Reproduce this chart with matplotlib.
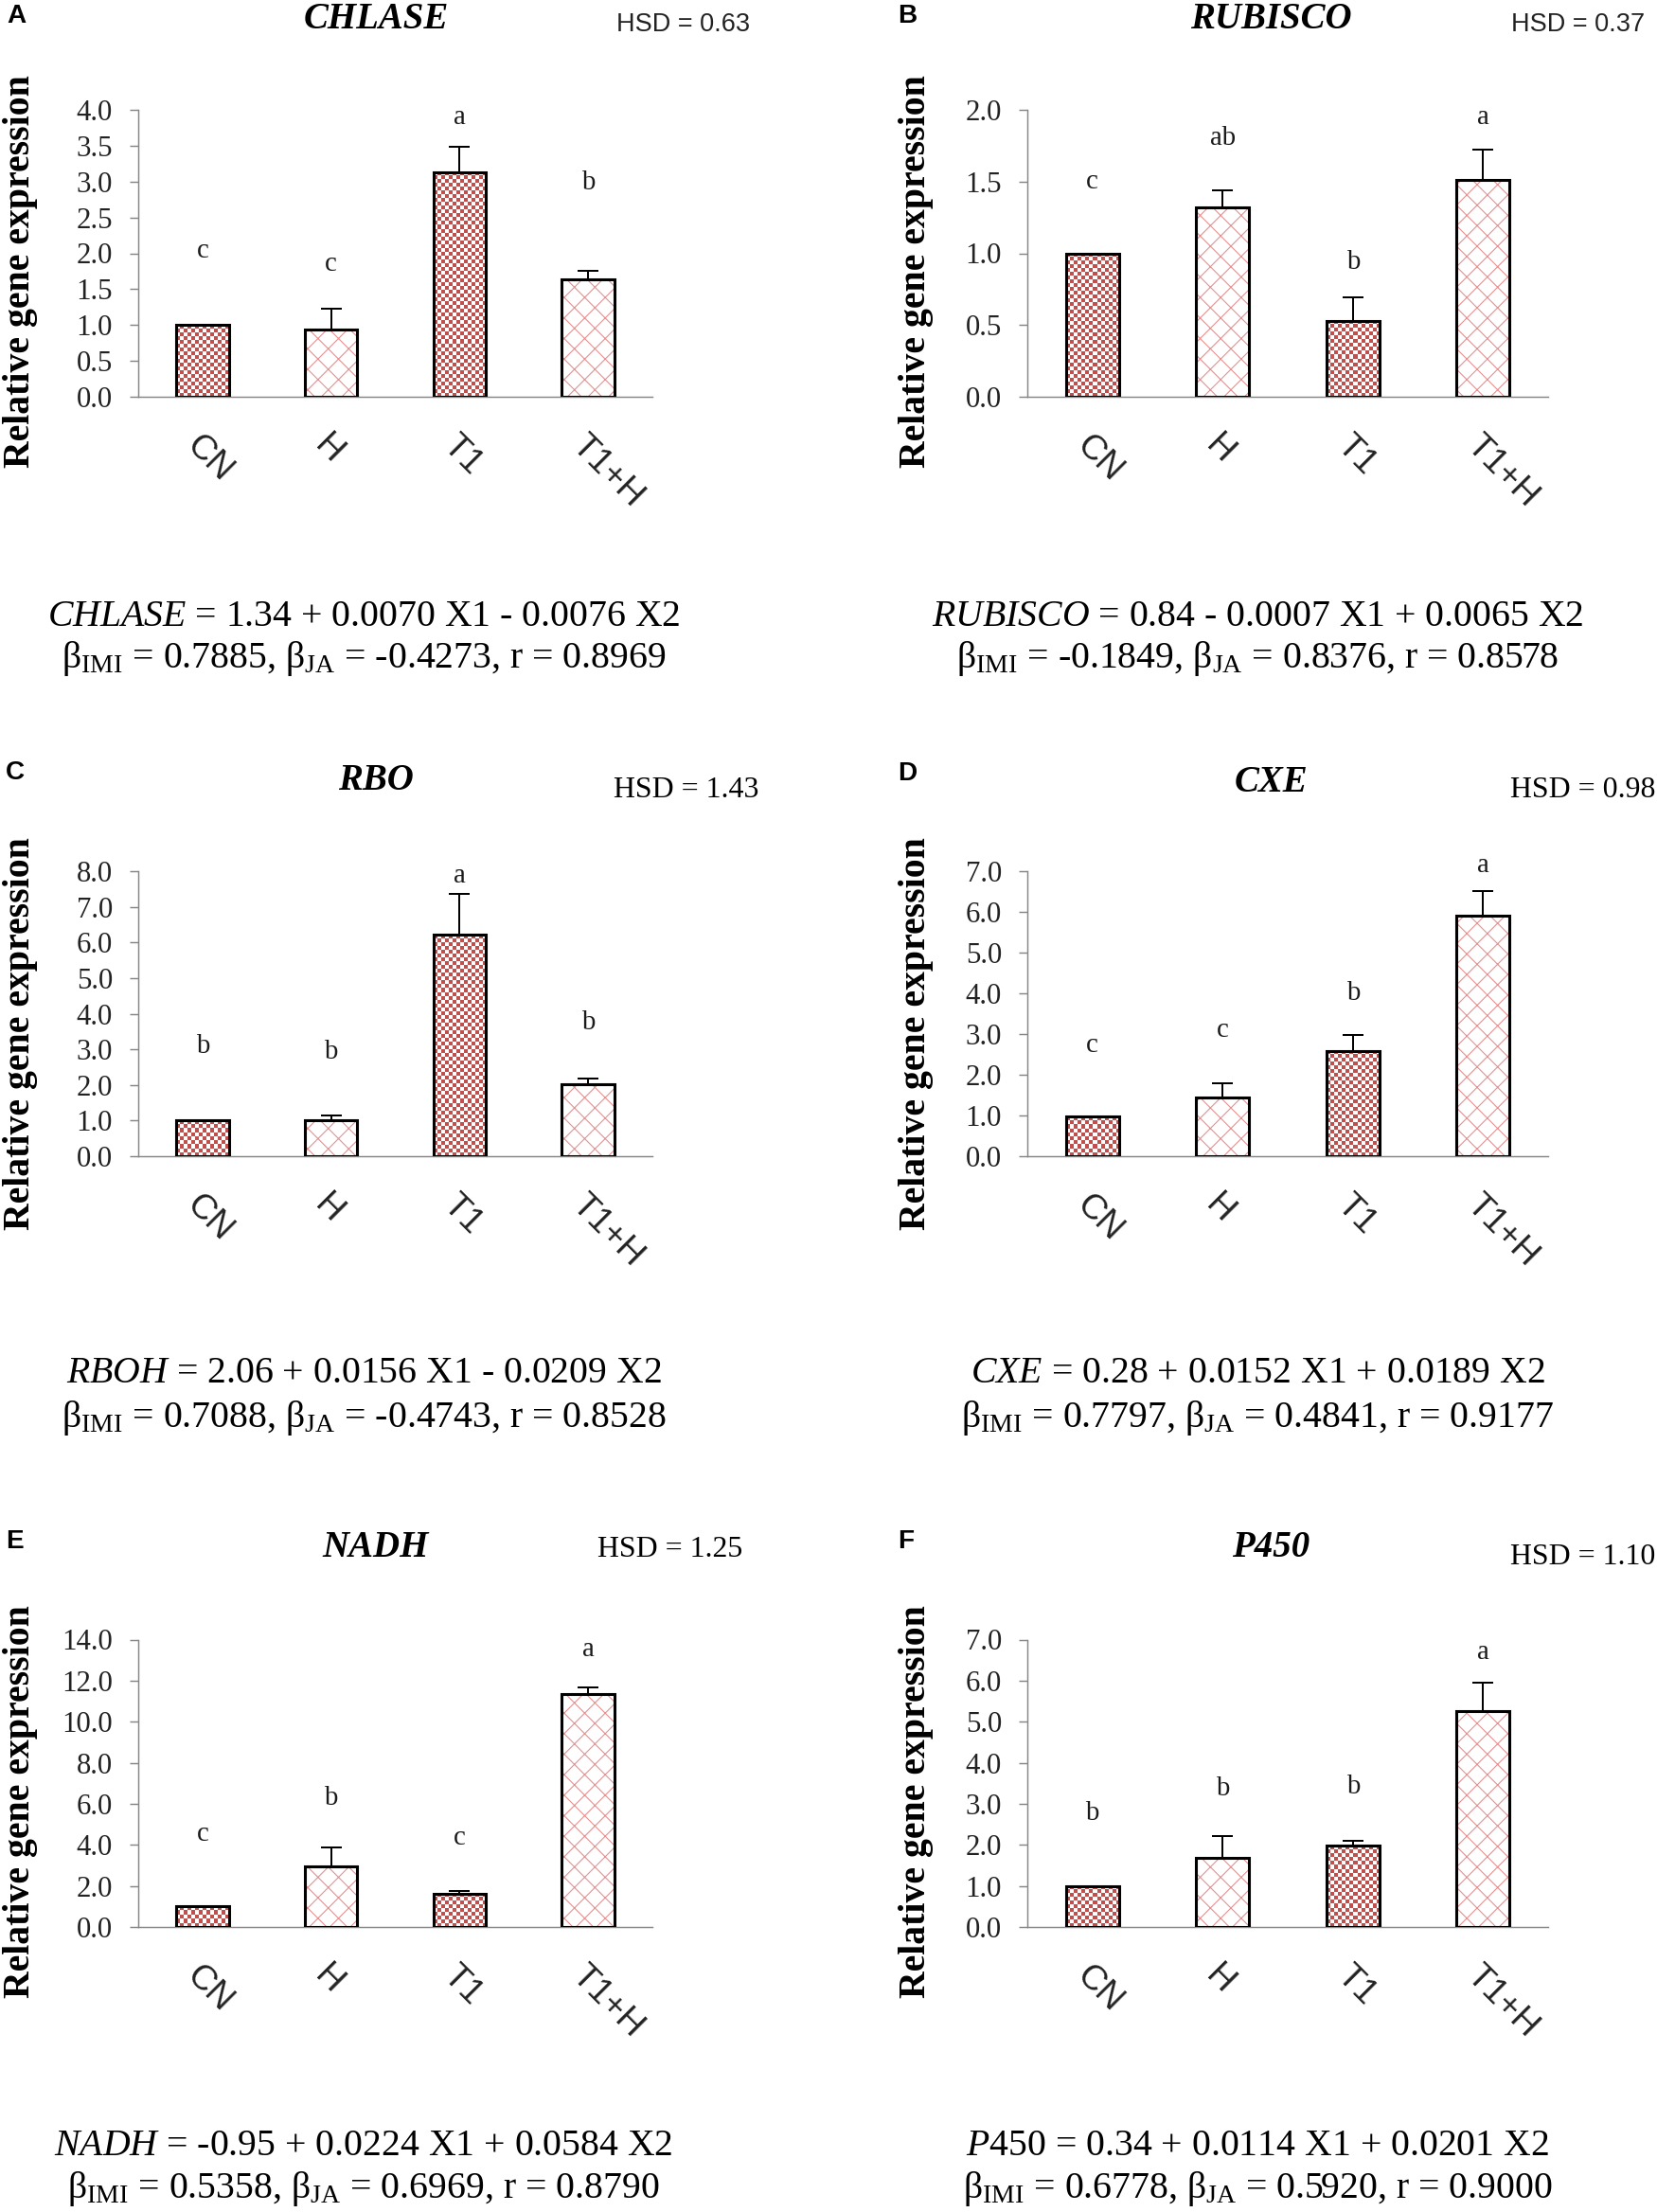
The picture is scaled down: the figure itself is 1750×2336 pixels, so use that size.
import numpy as np
import matplotlib
matplotlib.use('Agg')
import matplotlib.pyplot as plt
from matplotlib.colors import ListedColormap

plt.rcParams['font.family'] = ['Liberation Serif', 'DejaVu Sans']
plt.rcParams['mathtext.fontset'] = 'custom'
plt.rcParams['mathtext.rm'] = 'Liberation Serif'
plt.rcParams['mathtext.it'] = 'Liberation Serif:italic'
plt.rcParams['mathtext.bf'] = 'Liberation Serif:bold'
plt.rcParams['hatch.linewidth'] = 0.6

# data
groups = ['CN', 'H', 'T1', 'T1+H']
genes = ['CHLASE', 'RUBISCO', 'RBO', 'CXE', 'NADH', 'P450']
tags = ['A', 'B', 'C', 'D', 'E', 'F']
hsd = ['HSD = 0.63', 'HSD = 0.37', 'HSD = 1.43', 'HSD = 0.98', 'HSD = 1.25', 'HSD = 1.10']

chlase_mean = [1.0, 0.94, 3.13, 1.64]
chlase_err = [0, 0.29, 0.36, 0.12]
rubisco_mean = [1.0, 1.32, 0.53, 1.51]
rubisco_err = [0, 0.12, 0.16, 0.21]
rbo_mean = [1.0, 1.0, 6.21, 2.01]
rbo_err = [0, 0.13, 1.14, 0.17]
cxe_mean = [0.97, 1.45, 2.59, 5.91]
cxe_err = [0, 0.33, 0.39, 0.61]
nadh_mean = [1.0, 2.94, 1.62, 11.37]
nadh_err = [0, 0.92, 0.12, 0.30]
p450_mean = [1.0, 1.69, 1.98, 5.27]
p450_err = [0, 0.52, 0.11, 0.69]

chlase_letters = ['c', 'c', 'a', 'b']
rubisco_letters = ['c', 'ab', 'b', 'a']
rbo_letters = ['b', 'b', 'a', 'b']
cxe_letters = ['c', 'c', 'b', 'a']
nadh_letters = ['c', 'b', 'c', 'a']
p450_letters = ['b', 'b', 'b', 'a']

# heights where the letters sit
chlase_letter_y = [2.03, 1.85, 3.90, 2.98]
rubisco_letter_y = [1.50, 1.80, 0.935, 1.95]
rbo_letter_y = [3.07, 2.93, 7.87, 3.75]
cxe_letter_y = [2.73, 3.09, 4.0, 7.15]
nadh_letter_y = [4.53, 6.26, 4.34, 13.51]
p450_letter_y = [2.77, 3.36, 3.41, 6.68]

y_max = [4.0, 2.0, 8.0, 7.0, 14.0, 7.0]
y_step = [0.5, 0.5, 1.0, 1.0, 2.0, 1.0]

eq_line1 = [r'$\mathit{CHLASE}$ = 1.34 + 0.0070 X1 - 0.0076 X2',
            r'$\mathit{RUBISCO}$ = 0.84 - 0.0007 X1 + 0.0065 X2',
            r'$\mathit{RBOH}$ = 2.06 + 0.0156 X1 - 0.0209 X2',
            r'$\mathit{CXE}$ = 0.28 + 0.0152 X1 + 0.0189 X2',
            r'$\mathit{NADH}$ = -0.95 + 0.0224 X1 + 0.0584 X2',
            r'$\mathit{P450}$ = 0.34 + 0.0114 X1 + 0.0201 X2']
eq_line2 = [r'β$_{\mathrm{IMI}}$ = 0.7885, β$_{\mathrm{JA}}$ = -0.4273, r = 0.8969',
            r'β$_{\mathrm{IMI}}$ = -0.1849, β$_{\mathrm{JA}}$ = 0.8376, r = 0.8578',
            r'β$_{\mathrm{IMI}}$ = 0.7088, β$_{\mathrm{JA}}$ = -0.4743, r = 0.8528',
            r'β$_{\mathrm{IMI}}$ = 0.7797, β$_{\mathrm{JA}}$ = 0.4841, r = 0.9177',
            r'β$_{\mathrm{IMI}}$ = 0.5358, β$_{\mathrm{JA}}$ = 0.6969, r = 0.8790',
            r'β$_{\mathrm{IMI}}$ = 0.6778, β$_{\mathrm{JA}}$ = 0.5920, r = 0.9000']

means = [chlase_mean, rubisco_mean, rbo_mean, cxe_mean, nadh_mean, p450_mean]
errs = [chlase_err, rubisco_err, rbo_err, cxe_err, nadh_err, p450_err]
letters = [chlase_letters, rubisco_letters, rbo_letters, cxe_letters, nadh_letters, p450_letters]
letter_y = [chlase_letter_y, rubisco_letter_y, rbo_letter_y, cxe_letter_y, nadh_letter_y, p450_letter_y]

# layout in pixels
W, H = 1750, 2336
DPI = 130
col_left = [146, 1085]
col_width = [543, 550]
row_span = [(116, 419), (920, 1221), (1731.5, 2035)]
title_x = [397, 1342]
title_y = [20, 20, 825, 827, 1635, 1635]
hsd_xy = [(651, 26), (1596, 26), (648, 834), (1595, 834), (631, 1636), (1595, 1645)]
tag_xy = [(7, 17), (948, 17), (6, 816), (948, 817), (6, 1628), (948, 1628)]
ylab_y = [287, 1092, 1903]
ylab_x = [22, 967]
eq_x = [384, 1328]
eq_y = [(651, 696), (1450, 1498), (2266, 2312)]

checker = ListedColormap(['white', '#C0504D'])
CELL = 4.0
BW = 0.41
hatch_col = '#E58F8F'


def fx(x):
    return x / W


def fy(y):
    return 1 - y / H


fig = plt.figure(figsize=(W / DPI, H / DPI), dpi=DPI)

for i in range(6):
    col, row = i % 2, i // 2
    left, width = col_left[col], col_width[col]
    top, bottom = row_span[row]
    ax = fig.add_axes([fx(left), fy(bottom), width / W, (bottom - top) / H])
    ymax = y_max[i]
    x = np.arange(len(groups))
    for j, v in enumerate(means[i]):
        if j in (0, 2):
            nx = max(1, round(BW * width / 4 / CELL))
            ny = max(1, round(v / ymax * (bottom - top) / CELL))
            grid = np.indices((ny, nx)).sum(axis=0) % 2
            ax.imshow(grid, cmap=checker, vmin=0, vmax=1, extent=(j - BW / 2, j + BW / 2, 0, v),
                      origin='lower', interpolation='nearest', aspect='auto', zorder=1)
        else:
            ax.bar(j, v, BW, color='white', edgecolor=hatch_col, hatch='xx', linewidth=0, zorder=1)
    ax.bar(x, means[i], BW, fill=False, edgecolor='black', linewidth=1.7, zorder=3)
    for j, (v, e) in enumerate(zip(means[i], errs[i])):
        if e > 0:
            ax.errorbar(j, v, yerr=[[0], [e]], fmt='none', ecolor='black', elinewidth=1.1,
                        capsize=6, capthick=1.1, zorder=4)
        ax.text(j, letter_y[i][j], letters[i][j], ha='center', va='center',
                fontsize=16, color='#1a1a1a')
    ax.set_xlim(-0.5, 3.5)
    ax.set_ylim(0, ymax)
    ticks = np.arange(0, ymax + y_step[i] / 2, y_step[i])
    ax.set_yticks(ticks)
    ax.set_yticklabels([f'{t:.1f}' for t in ticks], fontsize=17, color='#222222')
    ax.set_xticks(x)
    ax.set_xticklabels(groups, rotation=-45, ha='left', va='top', rotation_mode='anchor',
                       fontfamily='Liberation Sans', fontsize=20.5, color='#222222')
    ax.tick_params(axis='x', length=0, pad=19)
    ax.tick_params(axis='y', length=5, width=0.8, color='#868686', pad=10)
    for s in ['top', 'right']:
        ax.spines[s].set_visible(False)
    for s in ['left', 'bottom']:
        ax.spines[s].set_color('#868686')
        ax.spines[s].set_linewidth(0.8)

    # texts around each panel
    fig.text(fx(title_x[col]), fy(title_y[i]), genes[i],
             ha='center', va='center', fontsize=21.5, fontweight='bold', fontstyle='italic')
    hx, hy = hsd_xy[i]
    if i < 2:
        fig.text(fx(hx), fy(hy), hsd[i], ha='left', va='center', fontsize=15,
                 fontfamily='Liberation Sans', color='#222222')
    else:
        fig.text(fx(hx), fy(hy), hsd[i], ha='left', va='center', fontsize=17.7)
    tx, ty = tag_xy[i]
    fig.text(fx(tx), fy(ty), tags[i], ha='left', va='center', fontsize=15.5,
             fontweight='bold', fontfamily='Liberation Sans')
    fig.text(fx(ylab_x[col]), fy(ylab_y[row]), 'Relative gene expression', rotation=90,
             ha='center', va='center', fontsize=22, fontweight='bold')
    e1, e2 = eq_y[row]
    fig.text(fx(eq_x[col]), fy(e1), eq_line1[i], ha='center', va='center', fontsize=22)
    fig.text(fx(eq_x[col]), fy(e2), eq_line2[i], ha='center', va='center', fontsize=22)

fig.savefig('out.png', dpi=DPI)
